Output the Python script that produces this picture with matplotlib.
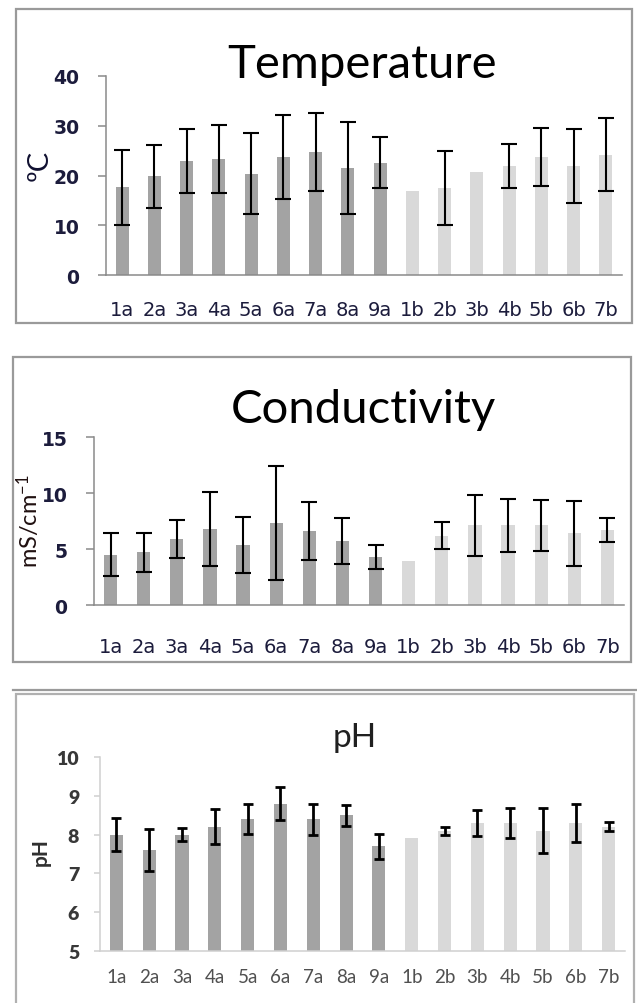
import matplotlib
matplotlib.use("Agg")
import matplotlib.pyplot as plt
from matplotlib.patches import Rectangle
from matplotlib.lines import Line2D

W, H = 637, 1004
plt.rcParams['mathtext.default'] = 'regular'

categories = ["1a", "2a", "3a", "4a", "5a", "6a", "7a", "8a", "9a",
              "1b", "2b", "3b", "4b", "5b", "6b", "7b"]
group_a = 9  # first nine sites are series "a"

temp_mean = [17.6, 19.8, 22.9, 23.3, 20.4, 23.7, 24.7, 21.5, 22.6,
             16.9, 17.5, 20.8, 21.9, 23.7, 21.9, 24.2]
temp_err = [7.5, 6.3, 6.4, 6.9, 8.2, 8.4, 7.8, 9.3, 5.2,
            0.0, 7.5, 0.0, 4.5, 5.9, 7.5, 7.3]

cond_mean = [4.5, 4.7, 5.9, 6.8, 5.4, 7.3, 6.6, 5.7, 4.3,
             3.9, 6.2, 7.1, 7.1, 7.1, 6.4, 6.7]
cond_err = [1.9, 1.75, 1.7, 3.3, 2.5, 5.1, 2.6, 2.05, 1.05,
            0.0, 1.2, 2.75, 2.4, 2.25, 2.9, 1.1]

ph_mean = [8.0, 7.6, 8.0, 8.2, 8.4, 8.8, 8.4, 8.5, 7.7,
           7.9, 8.1, 8.3, 8.3, 8.1, 8.3, 8.2]
ph_err = [0.43, 0.55, 0.16, 0.45, 0.38, 0.42, 0.4, 0.27, 0.32,
          0.0, 0.1, 0.33, 0.38, 0.58, 0.48, 0.12]

dark_bar = "#a3a3a3"
light_bar = "#d9d9d9"
bar_colors = [dark_bar] * group_a + [light_bar] * (len(categories) - group_a)

fig = plt.figure(figsize=(W / 100, H / 100), dpi=100)


def rect(l, t, r, b):
    return [l / W, 1 - b / H, (r - l) / W, (b - t) / H]


def fx(x):
    return x / W


def fy(y):
    return 1 - y / H


def box(l, t, r, b, color="#9a9a9a", lw=1.6):
    fig.patches.append(Rectangle((fx(l), fy(b)), fx(r) - fx(l), fy(t) - fy(b),
                                 transform=fig.transFigure, fill=False,
                                 edgecolor=color, linewidth=lw))


def panel(r, mean, err, ylim, yticks, axis_color, tick_len, tick_pad,
          ytick_font, xtick_font, xpad, cap, elw, lw_axis):
    ax = fig.add_axes(rect(*r))
    x = list(range(len(categories)))
    ax.bar(x, mean, width=0.4, color=bar_colors, zorder=2)
    for xi, m, e in zip(x, mean, err):
        if e > 0:
            ax.errorbar(xi, m, yerr=e, fmt='none', ecolor='black',
                        elinewidth=elw, capsize=cap, capthick=elw, zorder=3)
    ax.set_xlim(-0.5, len(categories) - 0.5)
    ax.set_ylim(*ylim)
    ax.set_yticks(yticks)
    ax.set_xticks(x)
    ax.set_xticklabels(categories)
    for s in ["top", "right"]:
        ax.spines[s].set_visible(False)
    for s in ["left", "bottom"]:
        ax.spines[s].set_color(axis_color)
        ax.spines[s].set_linewidth(lw_axis)
    ax.tick_params(axis='x', length=0, pad=xpad)
    ax.tick_params(axis='y', direction='out', length=tick_len, width=lw_axis,
                   color=axis_color, pad=tick_pad)
    for t in ax.get_yticklabels():
        t.set(**ytick_font)
    for t in ax.get_xticklabels():
        t.set(**xtick_font)
    ax.patch.set_visible(False)
    return ax


navy = "#1c1c3c"

# ---------------- Temperature ----------------
box(16, 10, 632, 324)
panel((106, 77, 622, 276), temp_mean, temp_err, (0, 40), [0, 10, 20, 30, 40],
      "#8a8a8a", 6, 13,
      dict(family="DejaVu Sans", weight="bold", size=13.5, color=navy),
      dict(family="DejaVu Sans", size=14, color=navy),
      18, 5.5, 1.5, 1.1)
fig.text(fx(362), fy(65), "Temperature", family="Lato", size=34,
         ha="center", va="center", color="black")
fig.text(fx(40), fy(165), "ºC", family="Lato", size=21, rotation=90,
         ha="center", va="center", color="#101030")

# ---------------- Conductivity ----------------
box(13, 358, 631, 663)
panel((94, 438, 624, 606), cond_mean, cond_err, (0, 15), [0, 5, 10, 15],
      "#8a8a8a", 6, 13,
      dict(family="DejaVu Sans", weight="bold", size=13.5, color=navy),
      dict(family="DejaVu Sans", size=14, color=navy),
      23, 5.5, 1.5, 1.1)
fig.text(fx(28), fy(521), "mS/cm$^{-1}$", family="Lato", size=17, rotation=90,
         ha="center", va="center", color="#201010")
fig.text(fx(363), fy(410), "Conductivity", family="Lato", size=34,
         ha="center", va="center", color="black")

# ---------------- pH ----------------
fig.add_artist(Line2D([fx(13), 1.0], [fy(691), fy(691)], transform=fig.transFigure,
                      color="#9a9a9a", linewidth=1.6))
box(16, 695, 634, 1010, color="#b0b0b0")
panel((100, 758, 625, 952), ph_mean, ph_err, (5, 10), [5, 6, 7, 8, 9, 10],
      "#d0d0d0", 4, 11,
      dict(family="Lato", weight="heavy", size=14, color="#383838"),
      dict(family="Lato", size=13.5, color="#505050"),
      12, 3.5, 2.0, 1.1)
fig.text(fx(355), fy(738), "pH", family="Lato", size=24,
         ha="center", va="center", color="#202020")
fig.text(fx(41), fy(852), "pH", family="Lato", size=15, weight="bold",
         rotation=90, ha="center", va="center", color="#303030")

fig.savefig("out.png", dpi=100)
